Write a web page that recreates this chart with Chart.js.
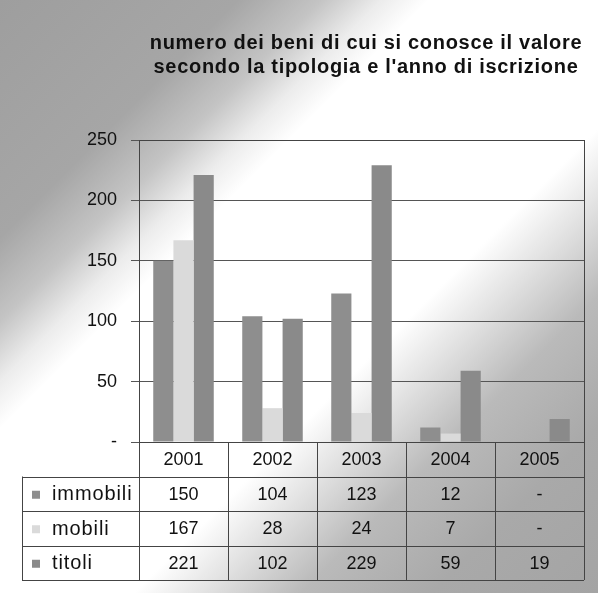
<!DOCTYPE html>
<html>
<head>
<meta charset="utf-8">
<script src="https://cdn.jsdelivr.net/npm/chart.js@4.4.0/dist/chart.umd.min.js"></script>
<style>
  html, body { margin: 0; padding: 0; }
  body {
    width: 598px; height: 593px; overflow: hidden;
    background: linear-gradient(135deg, #9e9e9e 0%, #a6a6a6 20%, #c4c4c4 27%, #ececec 32%, #fff 36%, #fff 61%, #e2e2e2 67%, #bababa 75%, #a9a9a9 86%, #a4a4a4 100%);
  }
  #wrap { position: relative; width: 598px; height: 593px; }
</style>
</head>
<body>
<div id="wrap"><canvas id="chart" width="598" height="593"></canvas></div>
<script>
// --- data ---
const years = ["2001", "2002", "2003", "2004", "2005"];
const immobili = [150, 104, 123, 12, null];
const mobili = [167, 28, 24, 7, null];
const titoli = [221, 102, 229, 59, 19];
const yTicks = [0, 50, 100, 150, 200, 250];
const titleLines = ["numero dei beni di cui si conosce il valore", "secondo la tipologia e l'anno di iscrizione"];

const FONT = "'Liberation Sans', Arial, sans-serif";

// title + plot box + data table under the chart
const tablePlugin = {
  id: "tablePlugin",
  afterDraw(chart) {
    const ctx = chart.ctx;
    const area = chart.chartArea;
    const n = years.length;
    const colW = (area.right - area.left) / n;
    const rowH = 34.5;
    const headTop = area.bottom;
    const labelLeft = 22;

    ctx.save();
    // title
    ctx.fillStyle = "#111";
    ctx.font = "bold 20px " + FONT;
    ctx.letterSpacing = "0.7px";
    ctx.textAlign = "center";
    ctx.textBaseline = "middle";
    titleLines.forEach((t, i) => ctx.fillText(t, 366, 43 + i * 24));
    ctx.letterSpacing = "0px";

    // plot box
    ctx.strokeStyle = "#444";
    ctx.lineWidth = 1;
    ctx.strokeRect(area.left + 0.5, area.top + 0.5, area.right - area.left, area.bottom - area.top);

    // table grid
    const rows = chart.data.datasets.length;
    const bottom = headTop + rowH * (rows + 1);
    ctx.beginPath();
    for (let i = 0; i <= n; i++) {
      const x = Math.round(area.left + i * colW) + 0.5;
      ctx.moveTo(x, headTop);
      ctx.lineTo(x, bottom);
    }
    for (let r = 1; r <= rows + 1; r++) {
      const y = Math.round(headTop + r * rowH) + 0.5;
      ctx.moveTo(labelLeft, y);
      ctx.lineTo(area.right, y);
    }
    ctx.moveTo(labelLeft + 0.5, headTop + rowH);
    ctx.lineTo(labelLeft + 0.5, bottom);
    ctx.stroke();

    // header
    ctx.fillStyle = "#111";
    ctx.font = "18px " + FONT;
    years.forEach((y, i) => ctx.fillText(y, area.left + (i + 0.5) * colW, headTop + rowH / 2 + 1));

    // rows
    chart.data.datasets.forEach((ds, r) => {
      const yMid = headTop + (r + 1.5) * rowH + 1;
      ctx.fillStyle = ds.backgroundColor;
      ctx.fillRect(labelLeft + 10, yMid - 4, 8, 8);
      ctx.fillStyle = "#111";
      ctx.textAlign = "left";
      ctx.font = "20px " + FONT;
      ctx.letterSpacing = "0.9px";
      ctx.fillText(ds.label, labelLeft + 30, yMid);
      ctx.letterSpacing = "0px";
      ctx.font = "18px " + FONT;
      ctx.textAlign = "center";
      ds.data.forEach((v, i) => {
        ctx.fillText(v == null ? "-" : String(v), area.left + (i + 0.5) * colW, yMid);
      });
    });
    ctx.restore();
  }
};

const ctx = document.getElementById("chart").getContext("2d");
new Chart(ctx, {
  type: "bar",
  data: {
    labels: years,
    datasets: [
      { label: "immobili", data: immobili, backgroundColor: "#8e8e8e" },
      { label: "mobili", data: mobili, backgroundColor: "#dadada" },
      { label: "titoli", data: titoli, backgroundColor: "#8a8a8a" }
    ]
  },
  options: {
    responsive: false,
    animation: false,
    layout: { padding: { top: 140, right: 14, bottom: 143, left: 0 } },
    plugins: {
      legend: { display: false },
      title: { display: false },
      tooltip: { enabled: false }
    },
    datasets: {
      bar: { categoryPercentage: 0.68, barPercentage: 1.0 }
    },
    scales: {
      x: {
        grid: { display: false },
        ticks: { display: false },
        border: { display: true, color: "#444" }
      },
      y: {
        min: 0,
        max: 250,
        afterFit(scale) { scale.width = 139; },
        afterBuildTicks(scale) { scale.ticks = yTicks.map(v => ({ value: v })); },
        ticks: {
          color: "#111",
          font: { family: FONT, size: 18 },
          padding: 14,
          callback: v => v === 0 ? "-" : v
        },
        grid: { color: "#555", lineWidth: 1, tickLength: 8 },
        border: { display: true, color: "#444" }
      }
    }
  },
  plugins: [tablePlugin]
});
</script>
</body>
</html>
